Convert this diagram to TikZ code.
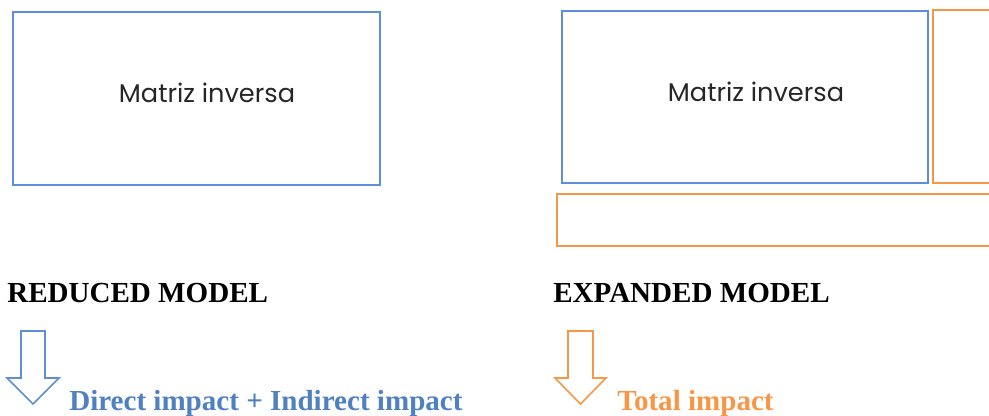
\documentclass[tikz,border=0pt]{standalone}
\usepackage{fontspec}
\setmainfont{Liberation Serif}
\newfontfamily\gothic{Poppins}
\definecolor{boxblue}{RGB}{91,143,217}
\definecolor{txtblue}{RGB}{79,128,192}
\definecolor{boxorange}{RGB}{247,150,70}
\begin{document}
\begin{tikzpicture}[x=0.75pt,y=-0.75pt,
  mbox/.style={draw=#1,line width=1.5pt,inner sep=0pt,outer sep=0pt,anchor=north west},
  mtext/.style={font=\gothic\fontsize{19.2}{23}\selectfont,text=black!85,inner sep=0pt},
  title/.style={font=\bfseries\fontsize{21.8}{26}\selectfont,anchor=base west,inner sep=0pt},
  arr/.style={draw=#1,line width=1.2pt,line join=miter}]
\clip (0,0) rectangle (989,416);
% left (reduced) model
\node[mbox=boxblue,minimum width=275.25pt,minimum height=129.75pt] (lbox) at (13,12) {};
\node[mtext] (ltext) at (207,93) {Matriz inversa};
% right (expanded) model
\node[mbox=boxblue,minimum width=274.5pt,minimum height=129pt] (rbox) at (562,11) {};
\node[mtext] (rtext) at (756,92) {Matriz inversa};
\node[mbox=boxorange,minimum width=60pt,minimum height=129.75pt] (obox) at (933,10) {};
\node[mbox=boxorange,minimum width=360pt,minimum height=39pt] (bbox) at (557,194) {};
% titles
\node[title] (lt) at (7,303) {REDUCED MODEL};
\node[title] (rt) at (553,303) {EXPANDED MODEL};
% arrows
\draw[arr=boxblue] (21,331) -- (45,331) -- (45,378) -- (59,378) -- (33,404) -- (7,378) -- (21,378) -- cycle;
\draw[arr=boxorange] (568,331) -- (593,331) -- (593,378) -- (606,378) -- (580.5,404) -- (555,378) -- (568,378) -- cycle;
% results
\node[title,text=txtblue] (limp) at (69,411) {Direct impact + Indirect impact};
\node[title,text=boxorange] (rimp) at (617,411) {Total impact};
\end{tikzpicture}
\end{document}
